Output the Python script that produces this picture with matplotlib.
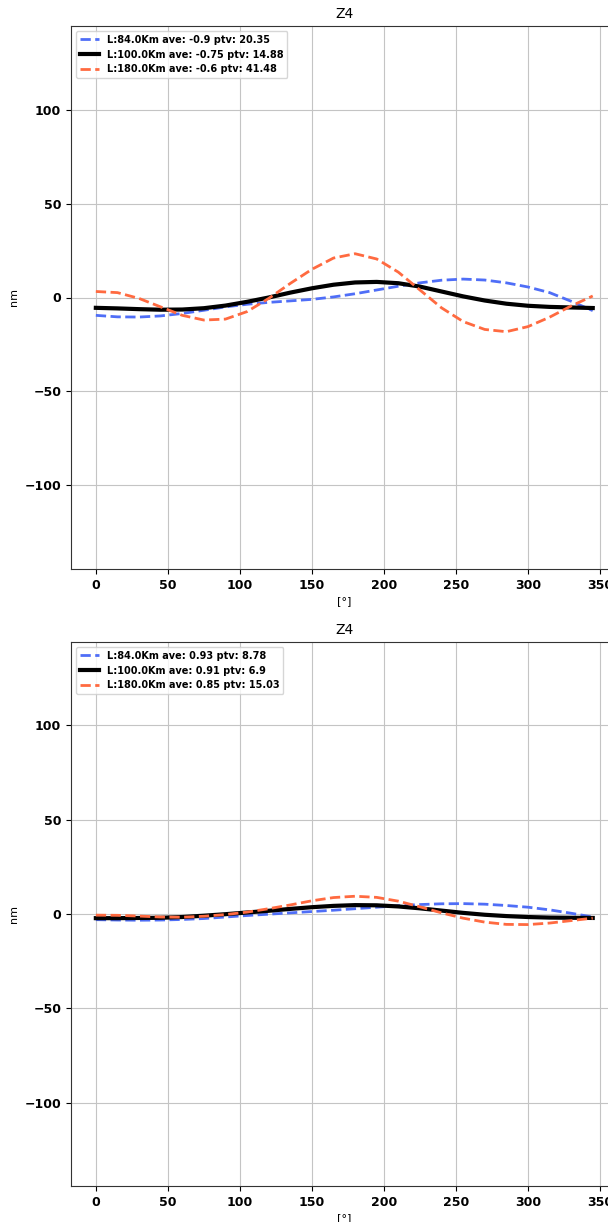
import matplotlib
matplotlib.use("Agg")
import matplotlib.pyplot as plt
import numpy as np

angles = list(range(0, 360, 15))

# Top panel
top_84 = [-9.5, -10.3, -10.4, -9.8, -8.5, -6.8, -5.0, -3.6, -2.6, -1.8, -1.0, 0.3,
          2.0, 4.0, 6.0, 7.8, 9.2, 9.8, 9.3, 7.8, 5.6, 2.6, -2.0, -7.0]
top_100 = [-5.5, -5.8, -6.2, -6.5, -6.4, -5.7, -4.3, -2.3, 0.0, 2.6, 4.9, 6.8,
           8.0, 8.3, 7.6, 5.8, 3.2, 0.6, -1.6, -3.3, -4.4, -5.0, -5.3, -5.6]
top_180 = [3.2, 2.6, -0.5, -5.0, -9.5, -12.0, -11.5, -7.5, -0.5, 7.5, 15.0, 21.0,
           23.3, 20.5, 13.5, 4.0, -5.5, -12.8, -17.0, -18.2, -15.5, -10.5, -4.5, 0.8]
top_labels = ["L:84.0Km ave: -0.9 ptv: 20.35",
              "L:100.0Km ave: -0.75 ptv: 14.88",
              "L:180.0Km ave: -0.6 ptv: 41.48"]

# Bottom panel
bot_84 = [-3.0, -3.2, -3.3, -3.2, -2.9, -2.4, -1.6, -0.8, -0.1, 0.6, 1.3, 2.0,
          2.8, 3.6, 4.4, 5.0, 5.4, 5.5, 5.2, 4.5, 3.6, 2.2, 0.4, -1.6]
bot_100 = [-2.2, -2.2, -2.1, -2.0, -1.6, -0.9, -0.1, 0.8, 1.7, 2.7, 3.6, 4.3,
           4.7, 4.6, 4.0, 3.0, 1.8, 0.6, -0.4, -1.1, -1.6, -1.9, -2.0, -2.1]
bot_180 = [-0.6, -0.7, -1.1, -1.6, -1.7, -1.2, -0.3, 1.0, 2.8, 4.8, 7.0, 8.7,
           9.4, 8.8, 6.8, 3.8, 0.6, -2.2, -4.3, -5.5, -5.6, -4.8, -3.5, -2.2]
bot_labels = ["L:84.0Km ave: 0.93 ptv: 8.78",
              "L:100.0Km ave: 0.91 ptv: 6.9",
              "L:180.0Km ave: 0.85 ptv: 15.03"]

title = "Z4"
xlabel = "[°]"
ylabel = "nm"
yticks = [-100, -50, 0, 50, 100]
xticks = [0, 50, 100, 150, 200, 250, 300, 350]

BLUE = "#4f6ef7"
ORANGE = "#ff6a40"

fig = plt.figure(figsize=(6.08, 12.22), dpi=100)
ax1 = fig.add_axes([71/608, 1-569/1222, 0.899, (569-26)/1222])
ax2 = fig.add_axes([71/608, 1-1186/1222, 0.899, (1186-642)/1222])

panels = [(ax1, top_84, top_100, top_180, top_labels, 144.5),
          (ax2, bot_84, bot_100, bot_180, bot_labels, 144.0)]

for ax, s84, s100, s180, labels, ylim in panels:
    ax.plot(angles, s84, '--', color=BLUE, lw=2, label=labels[0])
    ax.plot(angles, s100, '-', color='black', lw=3, label=labels[1])
    ax.plot(angles, s180, '--', color=ORANGE, lw=2, label=labels[2])
    ax.set_ylim(-ylim, ylim)
    ax.set_xlim(-17.25, 362.25)
    ax.set_yticks(yticks)
    ax.set_xticks(xticks)
    ax.grid(True, color='#c4c4c4', lw=0.8)
    ax.set_axisbelow(True)
    for sp in ax.spines.values():
        sp.set_color('#333333')
    for lab in ax.get_xticklabels() + ax.get_yticklabels():
        lab.set_fontweight('bold')
        lab.set_fontsize(9)
    ax.set_title(title, fontsize=10)
    ax.set_xlabel(xlabel, fontsize=8, labelpad=3)
    ax.set_ylabel(ylabel, fontsize=8)
    ax.legend(loc='upper left', prop={'weight': 'bold', 'size': 7})

fig.savefig("out.png", dpi=100)
